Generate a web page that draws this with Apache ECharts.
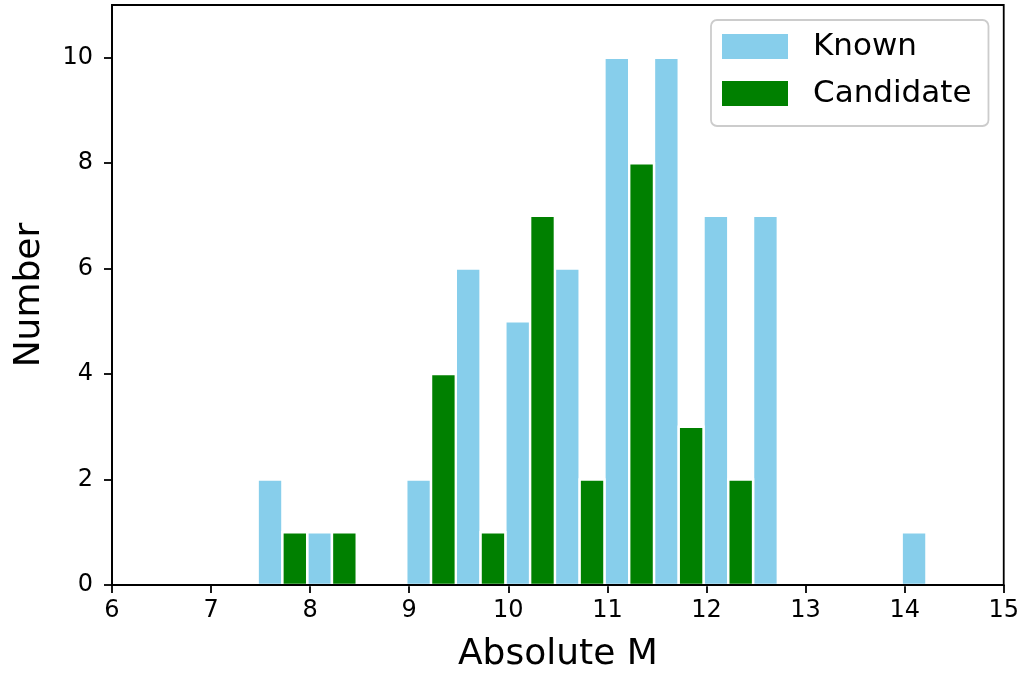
<!DOCTYPE html>
<html>
<head>
<meta charset="utf-8">
<script src="https://cdn.jsdelivr.net/npm/echarts@6/dist/echarts.min.js"></script>
<style>html,body{margin:0;padding:0;background:#fff;}#c{width:1022px;height:679px;}</style>
</head>
<body>
<div id="c"></div>
<script>
const binStarts = [6.97, 7.47, 7.97, 8.47, 8.97, 9.47, 9.97, 10.47, 10.97, 11.47, 11.97, 12.47, 12.97, 13.47, 13.97];
const binWidth = 0.5;
const known =     [0, 2, 1, 0, 2, 6, 5, 6, 10, 10, 7, 7, 0, 0, 1];
const candidate = [0, 1, 1, 0, 4, 1, 7, 2, 8, 3, 2, 0, 0, 0, 0];
const xTicks = [6, 7, 8, 9, 10, 11, 12, 13, 14, 15];
const yTicks = [0, 2, 4, 6, 8, 10];

const FONT = 'DejaVu Sans';
const chart = echarts.init(document.getElementById('c'), null, {renderer: 'canvas'});

function makeRender(slot, color) {
  return function (params, api) {
    const h = api.value(1);
    if (!h) return null;
    const x0 = api.value(0) + slot * binWidth / 2;
    const x1 = x0 + binWidth / 2;
    const p0 = api.coord([x0, 0]);
    const p1 = api.coord([x1, h]);
    return {
      type: 'rect',
      shape: {x: p0[0], y: p1[1], width: p1[0] - p0[0], height: p0[1] - p1[1]},
      style: {fill: color, stroke: '#ffffff', lineWidth: 2.4}
    };
  };
}

const option = {
  backgroundColor: '#ffffff',
  animation: false,
  grid: {left: 112, right: 16.5, top: 5, bottom: 94, show: true, borderColor: '#000', borderWidth: 1.8, backgroundColor: 'transparent', z: 5},
  xAxis: {
    type: 'value', min: 6, max: 15,
    name: 'Absolute M', nameLocation: 'middle', nameGap: 52,
    nameTextStyle: {fontFamily: FONT, fontSize: 36, color: '#000'},
    axisLine: {show: true, onZero: false, lineStyle: {color: '#000', width: 1.8}},
    axisTick: {show: true, inside: false, length: 8, lineStyle: {color: '#000', width: 1.8}, customValues: xTicks},
    axisLabel: {fontFamily: FONT, fontSize: 24, color: '#000', margin: 14, customValues: xTicks},
    splitLine: {show: false}
  },
  yAxis: {
    type: 'value', min: 0, max: 11,
    name: 'Number', nameLocation: 'middle', nameGap: 64, nameRotate: 90,
    nameTextStyle: {fontFamily: FONT, fontSize: 36, color: '#000'},
    axisLine: {show: true, lineStyle: {color: '#000', width: 1.8}},
    axisTick: {show: true, inside: false, length: 8, lineStyle: {color: '#000', width: 1.8}, customValues: yTicks},
    axisLabel: {fontFamily: FONT, fontSize: 24, color: '#000', margin: 19, customValues: yTicks},
    splitLine: {show: false}
  },
  legend: {
    orient: 'vertical', left: 711, top: 20,
    padding: [11, 17, 17, 11],
    itemGap: 16, itemWidth: 66, itemHeight: 25,
    borderColor: '#cccccc', borderWidth: 1.8, borderRadius: 6,
    backgroundColor: '#ffffff',
    textStyle: {fontFamily: FONT, fontSize: 31, lineHeight: 25, color: '#000', padding: [0, 0, 0, 20]},
    data: [{name: 'Known', icon: 'rect'}, {name: 'Candidate', icon: 'rect'}]
  },
  series: [
    {name: 'Known', type: 'custom', itemStyle: {color: '#87CEEB'},
     renderItem: makeRender(0, '#87CEEB'),
     encode: {x: 0, y: 1},
     data: binStarts.map((b, i) => [b, known[i]])},
    {name: 'Candidate', type: 'custom', itemStyle: {color: '#008000'},
     renderItem: makeRender(1, '#008000'),
     encode: {x: 0, y: 1},
     data: binStarts.map((b, i) => [b, candidate[i]])}
  ]
};
chart.setOption(option);
</script>
</body>
</html>
